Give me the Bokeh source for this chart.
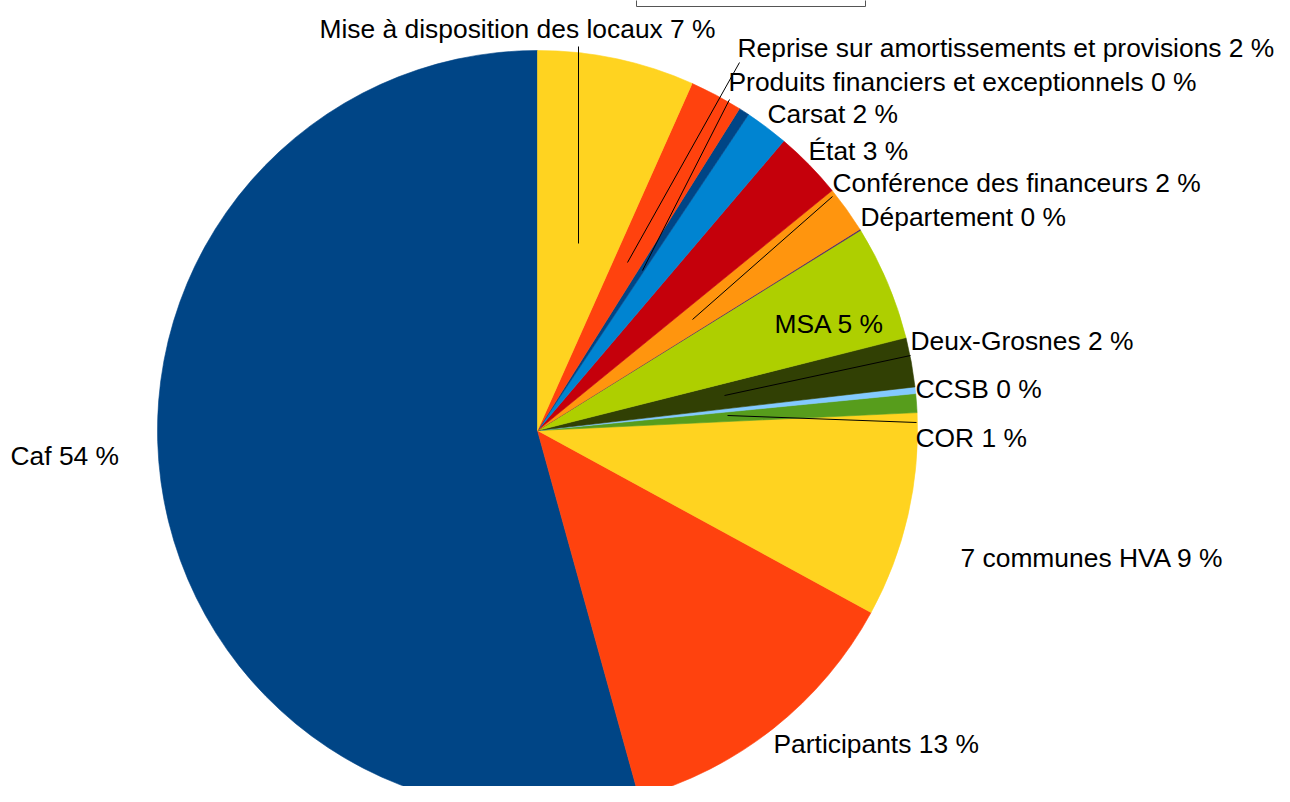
import math
from bokeh.plotting import figure
from bokeh.models import Range1d, ColumnDataSource
from bokeh.core.properties import value
from bokeh.embed import file_html
from bokeh.resources import INLINE

# ---- data (counter-clockwise from 12 o'clock, as drawn) ----
categories = [
    "Caf", "Participants", "7 communes HVA", "COR", "CCSB", "Deux-Grosnes",
    "MSA", "Département", "Conférence des financeurs", "État", "Carsat",
    "Produits financiers et exceptionnels",
    "Reprise sur amortissements et provisions",
    "Mise à disposition des locaux",
]
shares = [54.3, 12.75, 8.7, 0.8, 0.28, 2.1, 4.9, 0.05, 2.0, 2.9, 1.85, 0.45, 2.25, 6.67]
colors = ["#004586", "#ff420e", "#ffd320", "#579d1c", "#83caff", "#314004",
          "#aecf00", "#4b1f6f", "#ff950e", "#c5000b", "#0084d1", "#004586",
          "#ff420e", "#ffd320"]

# ---- layout (picture pixel coordinates) ----
CX, CY, R = 537, 430, 380
label_left = [10, 773, 960, 915, 915, 910, 774, 860, 832, 808, 767, 728, 737, 319]
label_base = [455, 743, 557, 437, 388, 340, 323, 216, 182, 150, 113, 81, 47, 28]
leaders = [  # (x0, y0, x1, y1)
    (578, 46, 578, 243),
    (739, 62, 627, 262),
    (729, 99, 642, 270),
    (832, 196, 692, 319),
    (910, 355, 724, 395),
    (916, 422, 727, 415),
]
FONT = value("Liberation Sans")

total = sum(shares)
starts, ends = [], []
acc = 0.0
for s in shares:
    starts.append(math.pi / 2 + 2 * math.pi * acc / total)
    acc += s
    ends.append(math.pi / 2 + 2 * math.pi * acc / total)

labels = [f"{c} {int(math.floor(100 * s / total + 0.5))} %" for c, s in zip(categories, shares)]

W, H = 1274, 786
p = figure(width=W, height=H, output_backend="svg", toolbar_location=None,
           x_range=Range1d(0, W), y_range=Range1d(-H, 0),
           min_border=0)
p.xaxis.visible = False
p.yaxis.visible = False
p.grid.visible = False
p.outline_line_color = None
p.background_fill_color = "white"
p.border_fill_color = "white"

# title box remnant at the top
p.quad(left=[636], right=[865], top=[20], bottom=[-6], fill_color="white",
       line_color="#555555", line_width=1)

src = ColumnDataSource(dict(start=starts, end=ends, color=colors,
                            x=[CX] * len(shares), y=[-CY] * len(shares)))
p.wedge(x="x", y="y", radius=R, start_angle="start", end_angle="end",
        direction="anticlock", fill_color="color", line_color="color",
        line_width=0.6, source=src)

p.segment(x0=[l[0] for l in leaders], y0=[-l[1] for l in leaders],
          x1=[l[2] for l in leaders], y1=[-l[3] for l in leaders],
          line_color="black", line_width=1)

tsrc = ColumnDataSource(dict(x=label_left, y=[-b for b in label_base], t=labels))
p.text(x="x", y="y", text="t", source=tsrc, text_font=FONT,
       text_font_size="26.4px", text_color="black",
       text_align="left", text_baseline="alphabetic")

open("out.html", "w").write(file_html(p, INLINE))
